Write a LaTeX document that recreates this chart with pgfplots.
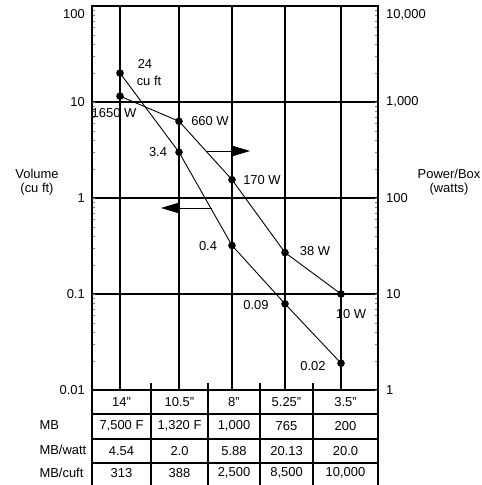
\documentclass[border=0pt]{standalone}
\usepackage{fontspec}
\setmainfont{Liberation Sans}
\usepackage{pgfplots}
\pgfplotsset{compat=1.18}
\usetikzlibrary{arrows.meta}
\newcommand\f{\fontsize{13}{14.5}\selectfont}
\begin{document}
\begin{tikzpicture}[x=1bp,y=1bp,font=\f]
\useasboundingbox (-92,-95) rectangle (390,390);
\begin{axis}[
  at={(0,0)}, anchor=south west, scale only axis,
  width=286bp, height=384bp,
  xmin=0, xmax=286, ymode=log, ymin=0.01, ymax=100,
  xtick={28,87,140,193,249}, xticklabels={},
  ytick={0.01,0.1,1,10,100}, yticklabels={0.01,0.1,1,10,\raisebox{-13bp}[0pt][0pt]{100}},
  grid=major, major grid style={black, line width=1.2bp},
  axis line style={black, line width=1.2bp},
  major tick length=0pt,
  yticklabel style={font=\f, inner sep=0pt, xshift=-7bp},
  clip=false,
]
\addplot[black, line width=0.9bp, mark=*, mark size=3.3bp]
  coordinates {(28,20) (87,3.0) (140,0.32) (193,0.079) (249,0.019)};
\end{axis}
\begin{axis}[
  at={(0,0)}, anchor=south west, scale only axis,
  width=286bp, height=384bp,
  xmin=0, xmax=286, ymode=log, ymin=1, ymax=10000,
  axis x line=none, axis y line*=right,
  ytick={1,10,100,1000,10000}, yticklabels={1,10,100,{1,000},\raisebox{-13bp}[0pt][0pt]{10,000}},
  axis line style={black, line width=1.2bp},
  major tick length=0pt,
  yticklabel style={font=\f, inner sep=0pt, xshift=8bp},
  clip=false,
]
\addplot[black, line width=0.9bp, mark=*, mark size=3.3bp]
  coordinates {(28,1150) (87,630) (140,155) (193,27) (249,10)};
\end{axis}
% data labels
\node at (53,326) {24};
\node at (57,309) {cu ft};
\node at (22,277) {1650 W};
\node at (118,269) {660 W};
\node at (66,238) {3.4};
\node at (170,210) {170 W};
\node at (116,144) {0.4};
\node at (223,139) {38 W};
\node at (164,85) {0.09};
\node at (259,76) {10 W};
\node at (221,24) {0.02};
% arrows
\draw[line width=0.9bp, -{Triangle[length=17bp,width=10bp]}] (115,239) -- (158,239);
\draw[line width=0.9bp, -{Triangle[length=17bp,width=10bp]}] (120,182) -- (69,182);
% axis titles
\node[align=center] at (-55,208) {Volume\\(cu ft)};
\node[align=center] at (357,208) {Power/Box\\(watts)};
% table
\begin{scope}[line width=1.2bp]
\foreach \x in {59,116,168,221} \draw (\x,7) -- (\x,-95);
\draw (0,0) -- (0,-95);
\draw (286,0) -- (286,-95);
\foreach \y in {-24,-49,-73} \draw (0,\y) -- (286,\y);
\end{scope}
\foreach \x/\t in {29.5/{14"},87.5/{10.5"},142/{8"},194.5/{5.25"},253.5/{3.5"}}
  \node at (\x,-12) {\t};
\foreach \x/\t in {29.5/{7,500 F},87.5/{1,320 F},142/{1,000},194.5/{765},253.5/{200}}
  \node at (\x,-36) {\t};
\foreach \x/\t in {29.5/{4.54},87.5/{2.0},142/{5.88},194.5/{20.13},253.5/{20.0}}
  \node at (\x,-61) {\t};
\foreach \x/\t in {29.5/{313},87.5/{388},142/{2,500},194.5/{8,500},253.5/{10,000}}
  \node at (\x,-83) {\t};
\node[anchor=west] at (-56,-35) {MB};
\node[anchor=west] at (-56,-60) {MB/watt};
\node[anchor=west] at (-56,-83) {MB/cuft};
\end{tikzpicture}
\end{document}
